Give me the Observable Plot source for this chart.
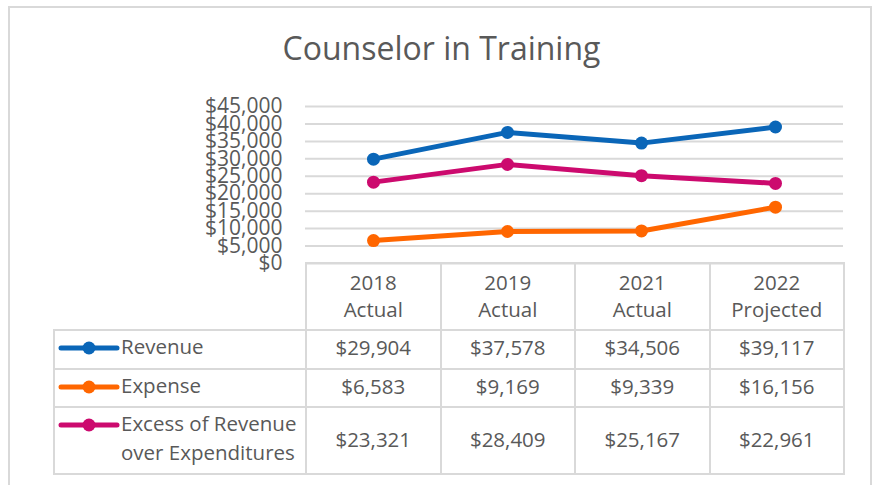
<!DOCTYPE html>
<html>
<head>
<meta charset="utf-8">
<script src="https://cdn.jsdelivr.net/npm/d3@7"></script>
<script src="https://cdn.jsdelivr.net/npm/@observablehq/plot@0.6"></script>
<style>
  html, body { margin: 0; padding: 0; background: #fff; }
  body { width: 877px; height: 485px; position: relative; overflow: hidden; font-family: "Open Sans", sans-serif; color: #595959; }
  #frame { position: absolute; left: 8px; top: 6px; width: 864px; height: 520px; border: 2px solid #d9d9d9; box-sizing: border-box; }
  #title { position: absolute; left: 0; width: 883px; top: 27px; text-align: center; font-size: 32px; line-height: 42px; color: #595959; }
  #chart { position: absolute; left: 0; top: 85px; }
  #table { position: absolute; left: 53px; top: 262px; border-collapse: collapse; table-layout: fixed; font-size: 20.5px; color: #595959; }
  #table td { border: 2px solid #d9d9d9; padding: 0 0 4px 0; text-align: center; vertical-align: middle; }
  #table tr.head td { padding-bottom: 2px; }
  #table td.blank { border-top: none; border-left: none; }
  #table td.name { text-align: left; padding-bottom: 5px; }
  .key { display: inline-block; vertical-align: top; }
  .namewrap { display: flex; align-items: flex-start; }
</style>
</head>
<body>
<div id="frame"></div>
<div id="title"></div>
<div id="chart"></div>
<table id="table"></table>
<script>
const chartTitle = "Counselor in Training";
const years = ["2018", "2019", "2021", "2022"];
const statuses = ["Actual", "Actual", "Actual", "Projected"];
const seriesNames = ["Revenue", "Expense", "Excess of Revenue over Expenditures"];
const seriesLabelLines = [["Revenue"], ["Expense"], ["Excess of Revenue", "over Expenditures"]];
const revenue = [29904, 37578, 34506, 39117];
const expense = [6583, 9169, 9339, 16156];
const excess = [23321, 28409, 25167, 22961];
const seriesColors = ["#0A66B8", "#FF6600", "#CC0A6E"];
const yTicks = [0, 5000, 10000, 15000, 20000, 25000, 30000, 35000, 40000, 45000];

const seriesValues = [revenue, expense, excess];
const fmt = d3.format("$,");

document.getElementById("title").textContent = chartTitle;

const data = [];
seriesNames.forEach((s, si) => {
  years.forEach((yr, i) => data.push({series: s, year: yr, value: seriesValues[si][i]}));
});

const plot = Plot.plot({
  width: 877,
  height: 180,
  marginLeft: 305,
  marginRight: 34,
  marginTop: 21,
  marginBottom: 2,
  style: {fontFamily: "'Open Sans', sans-serif", fontSize: "21px", color: "#595959", background: "transparent", overflow: "visible"},
  x: {type: "point", domain: years, padding: 0.5, axis: null},
  y: {domain: [0, 45000], ticks: yTicks, tickFormat: fmt, tickSize: 0, tickPadding: 23, label: null},
  color: {domain: seriesNames, range: seriesColors},
  marks: [
    Plot.ruleY(yTicks, {stroke: "#d9d9d9", strokeWidth: 2, strokeOpacity: 1}),
    Plot.axisY({ticks: yTicks, tickFormat: fmt, tickSize: 0, tickPadding: 23, label: null, fill: "#595959", fontSize: 21}),
    Plot.line(data, {x: "year", y: "value", z: "series", stroke: "series", strokeWidth: 5, strokeLinejoin: "round", strokeLinecap: "round"}),
    Plot.dot(data, {x: "year", y: "value", fill: "series", r: 6.5, stroke: "none"})
  ]
});
document.getElementById("chart").appendChild(plot);

// Data table
const table = d3.select("#table");
const colgroup = table.append("colgroup");
colgroup.append("col").style("width", "252px");
years.forEach(() => colgroup.append("col").style("width", "134.5px"));

const header = table.append("tr").attr("class", "head").style("height", "67px");
header.append("td").attr("class", "blank");
years.forEach((yr, i) => {
  header.append("td").style("line-height", "27px").html(yr + "<br>" + statuses[i]);
});

const rowHeights = [38.5, 38.5, 67];
seriesNames.forEach((s, si) => {
  const tr = table.append("tr").style("height", rowHeights[si] + "px");
  const nameTd = tr.append("td").attr("class", "name");
  const wrap = nameTd.append("div").attr("class", "namewrap");
  const key = wrap.append("svg").attr("class", "key").attr("width", 66).attr("height", 29);
  key.append("line").attr("x1", 6).attr("x2", 62).attr("y1", 16).attr("y2", 16)
    .attr("stroke", seriesColors[si]).attr("stroke-width", 5).attr("stroke-linecap", "round");
  key.append("circle").attr("cx", 34).attr("cy", 16).attr("r", 6.5).attr("fill", seriesColors[si]);
  wrap.append("div").style("line-height", "29px").html(seriesLabelLines[si].join("<br>"));
  seriesValues[si].forEach(v => tr.append("td").text(fmt(v)));
});
</script>
</body>
</html>
